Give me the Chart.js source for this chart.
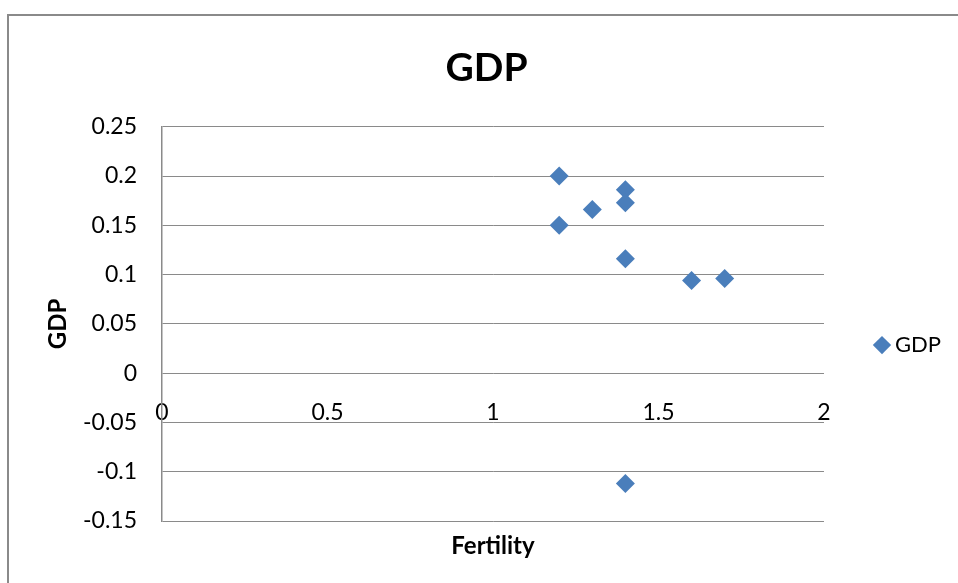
<!DOCTYPE html>
<html>
<head>
<meta charset="utf-8">
<script src="https://cdn.jsdelivr.net/npm/chart.js@4.4.0/dist/chart.umd.min.js"></script>
<style>
  html, body { margin: 0; padding: 0; background: #fff; overflow: hidden; }
  #frame { position: absolute; left: 7px; top: 14px; width: 1000px; height: 1000px; border: 2px solid #8a8a8a; }
  #wrap { position: absolute; left: 0; top: 0; width: 958px; height: 583px; }
</style>
</head>
<body>
<div id="frame"></div>
<div id="wrap"><canvas id="chart"></canvas></div>
<script>
// data
const fertility = [1.2, 1.2, 1.3, 1.4, 1.4, 1.4, 1.6, 1.7, 1.4];
const gdp = [0.2, 0.15, 0.166, 0.186, 0.173, 0.116, 0.094, 0.096, -0.112];
const xTicks = [0, 0.5, 1, 1.5, 2];
const yTicks = [-0.15, -0.1, -0.05, 0, 0.05, 0.1, 0.15, 0.2, 0.25];

const FONT = "Lato, 'Open Sans', sans-serif";
const gridColor = "#8a8a8a";
const blue = "#4a7ebb";

new Chart(document.getElementById("chart"), {
  type: "scatter",
  data: {
    datasets: [{
      label: "GDP",
      data: fertility.map((f, i) => ({ x: f, y: gdp[i] })),
      pointStyle: "rectRot",
      pointRadius: 9.5,
      pointHoverRadius: 9.5,
      backgroundColor: blue,
      borderColor: blue,
      borderWidth: 0
    }]
  },
  options: {
    responsive: true,
    maintainAspectRatio: false,
    animation: false,
    layout: { padding: { top: 0, left: 22, right: 7, bottom: 0 } },
    plugins: {
      title: {
        display: true,
        text: "GDP",
        color: "#000",
        font: { family: FONT, size: 39, weight: "bold" },
        padding: { top: 45, bottom: 35 }
      },
      legend: {
        position: "right",
        fullSize: false,
        title: { display: true, text: "", padding: { top: 0, bottom: 28 } },
        labels: {
          usePointStyle: true,
          boxWidth: 4,
          boxHeight: 13,
          padding: 56,
          color: "#000",
          font: { family: FONT, size: 22 }
        }
      },
      tooltip: { enabled: false }
    },
    scales: {
      x: {
        type: "linear",
        position: { y: 0 },
        min: 0,
        max: 2,
        afterBuildTicks: s => { s.ticks = xTicks.map(v => ({ value: v })); },
        grid: { display: false },
        border: { display: false },
        ticks: {
          padding: 18,
          color: "#000",
          font: { family: FONT, size: 23 },
          maxRotation: 0,
          callback: v => String(v)
        }
      },
      x2: {
        type: "linear",
        position: "bottom",
        min: 0,
        max: 2,
        grid: { display: false },
        border: { display: false },
        ticks: { display: false },
        title: {
          display: true,
          text: "Fertility",
          color: "#000",
          font: { family: FONT, size: 24, weight: "bold" },
          padding: { top: 2.6, bottom: 22.6 }
        }
      },
      y: {
        type: "linear",
        min: -0.15,
        max: 0.25,
        afterBuildTicks: s => { s.ticks = yTicks.map(v => ({ value: v })); },
        afterFit: s => { s.width = 140; },
        grid: { color: gridColor, lineWidth: 1, drawTicks: false },
        border: { display: true, color: gridColor, width: 1.5 },
        ticks: {
          padding: 25,
          color: "#000",
          font: { family: FONT, size: 23 },
          callback: v => String(v)
        },
        title: {
          display: true,
          text: "GDP",
          color: "#000",
          font: { family: FONT, size: 24, weight: "bold" },
          padding: { top: 21.6, bottom: 4 }
        }
      }
    }
  }
});
</script>
</body>
</html>
